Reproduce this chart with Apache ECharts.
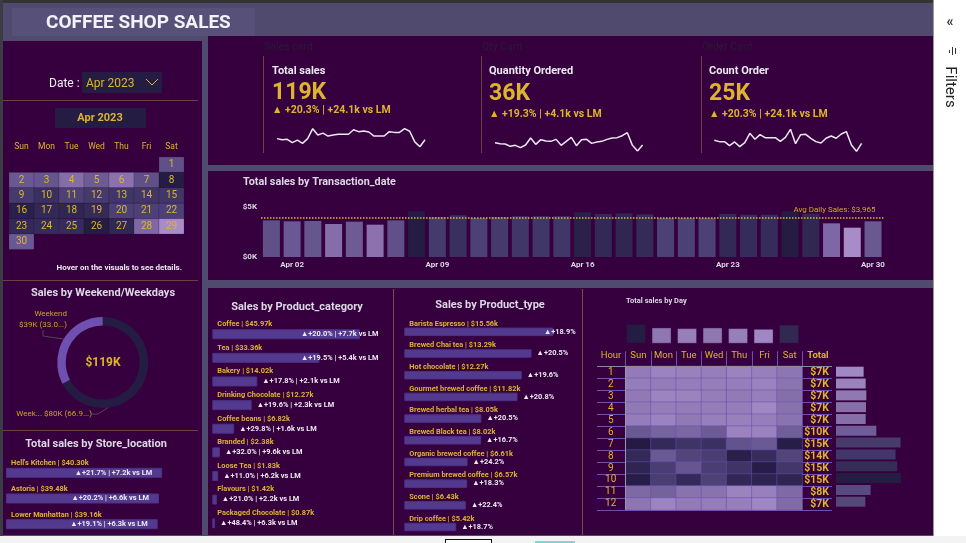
<!DOCTYPE html>
<html lang="en">
<head>
    <meta charset="UTF-8">
    <title>Coffee Shop Sales</title>
    <script src="https://cdn.jsdelivr.net/npm/echarts@6/dist/echarts.min.js"></script>
    <style>
        html, body { margin: 0; padding: 0; background: #fff; overflow: hidden; }
        #main { width: 966px; height: 543px; }
    </style>
</head>
<body>
<div id="main"></div>
<script type="text/javascript">
    // daily sales, Apr 1 - Apr 30
    var dayLabels = ['Apr 01','Apr 02','Apr 03','Apr 04','Apr 05','Apr 06','Apr 07','Apr 08','Apr 09','Apr 10',
        'Apr 11','Apr 12','Apr 13','Apr 14','Apr 15','Apr 16','Apr 17','Apr 18','Apr 19','Apr 20',
        'Apr 21','Apr 22','Apr 23','Apr 24','Apr 25','Apr 26','Apr 27','Apr 28','Apr 29','Apr 30'];
    var dailySales = [3667,3567,3600,3300,3533,3233,3667,4567,4000,4167,3900,4000,4067,4067,4067,
        4467,4300,4367,4267,3900,3900,3900,4300,4233,4233,4567,4333,3367,2933,3567];
    var dailyQty = [1172,1147,1138,1079,1104,1045,1113,1291,1130,1249,1215,1206,1257,1104,1206,
        1308,1096,1249,1257,1155,1189,1206,1257,1291,1300,1351,1427,1104,960,1113];
    var dailyOrders = [832,816,816,768,812,756,804,916,844,900,864,864,864,820,868,
        964,792,900,904,856,816,800,856,884,856,908,936,776,700,796];
    var avgDailySales = 3965;

    var weekSplit = [80, 39];
    var weekSplitLabels = ['Week... $80K (66.9...)', 'Weekend\n$39K (33.0...)'];

    var storeNames = ["Lower Manhattan", "Astoria", "Hell's Kitchen"];
    var storeSales = [39.16, 39.48, 40.30];
    var storeNotes = ['▲+19.1% | +6.3k vs LM', '▲+20.2% | +6.6k vs LM', '▲+21.7% | +7.2k vs LM'];

    var categoryNames = ['Packaged Chocolate','Flavours','Loose Tea','Branded','Coffee beans','Drinking Chocolate','Bakery','Tea','Coffee'];
    var categorySales = [0.87,1.42,1.83,2.38,6.82,12.27,14.02,33.36,45.97];
    var categoryNotes = ['▲+48.4% | +6.3k vs LM','▲+21.0% | +2.2k vs LM','▲+11.0% | +6.2k vs LM','▲+32.0% | +9.6k vs LM',
        '▲+29.8% | +1.6k vs LM','▲+19.6% | +2.3k vs LM','▲+17.8% | +2.1k vs LM','▲+19.5% | +5.4k vs LM','▲+20.0% | +7.7k vs LM'];

    var typeNames = ['Drip coffee','Scone','Premium brewed coffee','Organic brewed coffee','Brewed Black tea','Brewed herbal tea',
        'Gourmet brewed coffee','Hot chocolate','Brewed Chai tea','Barista Espresso'];
    var typeSales = [5.42,6.43,6.57,6.61,8.02,8.05,11.82,12.27,13.29,15.56];
    var typeNotes = ['▲+18.7%','▲+22.4%','▲+18.3%','▲+24.2%','▲+16.7%','▲+20.5%','▲+20.8%','▲+19.6%','▲+20.5%','▲+18.9%'];

    var weekDays = ['Sun','Mon','Tue','Wed','Thu','Fri','Sat'];
    var dayTotals = [20.0,16.5,15.8,16.5,15.8,15.1,19.3];
    var hours = ['1','2','3','4','5','6','7','8','9','10','11','12'];
    var hourTotals = [6.55,7.03,7.19,7.10,7.03,9.56,15.3,14.1,14.5,15.4,8.2,6.95];
    var hourTotalColors = ['#a088c4','#9a82bd','#9079b2','#8770a8','#856fa8','#6f5d99','#463b6b','#41376a','#352d58','#241c42','#574a80','#554878'];
    var hourDaySales = [
        [1060,950,980,1020,950,1000,1120],
        [1040,1050,1030,1020,1020,960,1150],
        [1090,940,950,1030,1070,1020,1230],
        [1080,1030,1050,1030,1040,880,1190],
        [1040,950,1080,1010,990,1020,1160],
        [1560,1400,1350,1530,950,960,1480],
        [2550,2250,2100,2150,1650,1550,2500],
        [2250,1550,1850,1950,2450,2200,1850],
        [2350,1950,1600,1950,2100,2500,2050],
        [2500,1950,2250,1900,2300,2400,2350],
        [1320,1430,1170,1170,950,990,1300],
        [1130,930,1060,1030,1000,900,1290]
    ];

    var PANEL = '#36003e', BAND = '#4f4a6e', DARK = '#241c42', YELLOW = '#dcb52e', BROWN = '#6e3f45';
    var BAR = '#533a8f', LIGHT = '#dcd8e4';
    var FONT = 'Roboto, "Noto Sans", sans-serif';

    function rect(x, y, w, h, fill, z) {
        return { type: 'rect', z: z || 0, silent: true, shape: { x: x, y: y, width: w, height: h }, style: { fill: fill } };
    }
    function txt(x, y, s, size, color, weight, align) {
        return { type: 'text', z: 100, silent: true, style: { x: x, y: y, text: s, fontSize: size, fontFamily: FONT,
            fill: color, fontWeight: weight || 'normal', align: align || 'left', verticalAlign: 'middle' } };
    }

    var graphics = [
        rect(0, 0, 966, 543, BAND),
        rect(0, 0, 966, 3, '#333'),
        rect(0, 0, 3, 543, '#3c3c46'),
        rect(12, 8, 243, 28, '#57517a'),
        // panels
        rect(3, 41, 199, 494, PANEL),
        rect(208, 36, 725, 129, PANEL),
        rect(208, 171, 725, 109, PANEL),
        rect(208, 288, 725, 247, PANEL),
        // brown rules
        rect(3, 100, 195, 1, BROWN), rect(3, 280, 195, 1, BROWN), rect(3, 430, 195, 1, BROWN),
        rect(263, 56, 1, 97, BROWN), rect(481, 56, 1, 97, BROWN), rect(701, 56, 1, 97, BROWN),
        rect(393, 289, 1, 246, '#7a4f45'), rect(582, 289, 1, 246, '#7a4f45'),
        // date boxes
        rect(82, 72, 80, 21, DARK), rect(55, 108, 91, 20, DARK),
        { type: 'polyline', z: 100, silent: true, shape: { points: [[146, 79], [152, 85], [158, 79]] },
            style: { stroke: YELLOW, fill: 'none', lineWidth: 1 } },
        // filter pane and the strip under the page
        rect(933, 0, 33, 543, '#ffffff', 90), rect(933, 0, 1, 543, '#9a9a9a', 90),
        rect(0, 536, 966, 7, '#f3f3f3', 90),
        rect(445, 539, 47, 4, '#111', 91), rect(446, 540, 45, 3, '#fff', 92),
        rect(535, 541, 40, 2, '#7fd8d0', 91),
        rect(949, 50, 1, 3, '#333', 100), rect(952, 47, 1, 8, '#333', 100), rect(955, 48, 1, 6, '#333', 100),
        // matrix header rule and left edge
        rect(597, 366, 235, 1, '#8d8a9c', 60), rect(625, 366, 1, 144, '#9b93b0', 60),

        txt(46, 23, 'COFFEE SHOP SALES', 19, '#f4f2f8', 'bold'),
        txt(950, 22, '«', 14, '#333', 'bold', 'center'),
        { type: 'text', z: 100, silent: true, x: 950, y: 87, rotation: -Math.PI / 2,
            style: { x: 0, y: 0, text: 'Filters', fontSize: 15, fontFamily: FONT, fill: '#222', align: 'center', verticalAlign: 'middle' } },

        txt(49, 84, 'Date :', 12, '#f0eef4', 'normal'),
        txt(86, 84, 'Apr 2023', 12, YELLOW),
        txt(100, 118, 'Apr 2023', 11, YELLOW, 'bold', 'center'),
        txt(182, 268, 'Hover on the visuals to see details.', 8, '#ece9f0', 'bold', 'right'),
        txt(103, 293, 'Sales by Weekend/Weekdays', 11, LIGHT, 'bold', 'center'),
        txt(103, 363, '$119K', 12, YELLOW, 'bold', 'center'),
        txt(96, 444, 'Total sales by Store_location', 11, LIGHT, 'bold', 'center'),

        txt(264, 47, 'Sales card', 10.5, '#2c1a34'), txt(482, 47, 'Qty Card', 10.5, '#2c1a34'), txt(702, 47, 'Order Card', 10.5, '#2c1a34'),
        txt(272, 71, 'Total sales', 11, '#ebe8f0', 'bold'),
        txt(272, 93, '119K', 23, YELLOW, 'bold'),
        txt(272, 110, '▲ +20.3% | +24.1k vs LM', 10.5, YELLOW, 'bold'),
        txt(489, 71, 'Quantity Ordered', 11, '#ebe8f0', 'bold'),
        txt(489, 94, '36K', 23, YELLOW, 'bold'),
        txt(489, 114, '▲ +19.3% | +4.1k vs LM', 10.5, YELLOW, 'bold'),
        txt(709, 71, 'Count Order', 11, '#ebe8f0', 'bold'),
        txt(709, 94, '25K', 23, YELLOW, 'bold'),
        txt(709, 114, '▲ +20.3% | +24.1k vs LM', 10.5, YELLOW, 'bold'),

        txt(243, 182, 'Total sales by Transaction_date', 10.8, LIGHT, 'bold'),
        txt(297, 307, 'Sales by Product_category', 11, LIGHT, 'bold', 'center'),
        txt(490, 305, 'Sales by Product_type', 11, LIGHT, 'bold', 'center'),
        txt(626, 301, 'Total sales by Day', 7.5, LIGHT, 'bold'),
        txt(611, 356, 'Hour', 9.5, YELLOW, 'normal', 'center'),
        txt(818, 356, 'Total', 9.5, YELLOW, 'bold', 'center')
    ];

    var grids = [
        { left: 277, width: 148, top: 128.7, height: 18 },     // 0 sales sparkline
        { left: 495, width: 147.6, top: 132.7, height: 18.3 }, // 1 qty sparkline
        { left: 714.3, width: 147.3, top: 129.3, height: 22 }, // 2 orders sparkline
        { left: 261, width: 622.4, top: 207, height: 50 },     // 3 daily bars
        { left: 6, width: 160, top: 460, height: 78 },         // 4 store
        { left: 212.3, width: 170, top: 322.4, height: 217 },  // 5 category
        { left: 404.3, width: 170, top: 321, height: 217.4 },  // 6 type
        { left: 623.3, width: 178.5, top: 324, height: 19.7 }, // 7 day totals
        { left: 625.7, width: 176.6, top: 366.3, height: 143.6 }, // 8 matrix
        { left: 597, width: 235, top: 366.3, height: 143.6 },  // 9 row rules
        { left: 836, width: 65, top: 365.8, height: 141.8 }    // 10 hour totals
    ];

    function hiddenAxis(type, grid, extra) {
        return Object.assign({ type: type, gridIndex: grid, show: false, boundaryGap: type === 'category' ? true : undefined }, extra || {});
    }

    var xAxes = [
        hiddenAxis('category', 0, { data: dayLabels, boundaryGap: false }),
        hiddenAxis('category', 1, { data: dayLabels, boundaryGap: false }),
        hiddenAxis('category', 2, { data: dayLabels, boundaryGap: false }),
        { type: 'category', gridIndex: 3, data: dayLabels, axisLine: { show: false }, axisTick: { show: false },
            axisLabel: { interval: function (i) { return i % 7 === 1; }, color: LIGHT, fontSize: 8, fontWeight: 'bold', fontFamily: FONT, margin: 4 } },
        hiddenAxis('value', 4, { min: 0, max: 41.3 }),
        hiddenAxis('value', 5, { min: 0, max: 52.96 }),
        hiddenAxis('value', 6, { min: 0, max: 17.75 }),
        hiddenAxis('category', 7, { data: weekDays }),
        { type: 'category', gridIndex: 8, position: 'top', data: weekDays, axisLine: { show: false },
            axisTick: { show: true, length: 15, lineStyle: { color: '#6d4fb0' } },
            axisLabel: { color: YELLOW, fontSize: 9.5, fontFamily: FONT, margin: 6 } },
        hiddenAxis('value', 9, { min: 0, max: 1 }),
        hiddenAxis('value', 10, { min: 0, max: 15.4 })
    ];

    // name sits above the bar: a blank second line pushes it up by one line height
    function hbarAxis(grid, names, values, lift) {
        return { type: 'category', gridIndex: grid, data: names, axisLine: { show: false }, axisTick: { show: false },
            axisLabel: { inside: true, interval: 0, margin: 5, color: YELLOW, fontSize: 7.4, fontWeight: 'bold', fontFamily: FONT,
                verticalAlign: 'middle', lineHeight: lift,
                formatter: function (name, i) { return name + ' | $' + values[i].toFixed(2) + 'k\n '; } },
            z: 10 };
    }

    var yAxes = [
        hiddenAxis('value', 0, { min: 2933, max: 4567 }),
        hiddenAxis('value', 1, { min: 960, max: 1427 }),
        hiddenAxis('value', 2, { min: 700, max: 964 }),
        { type: 'value', gridIndex: 3, min: 0, max: 5000, interval: 5000, splitLine: { show: false },
            axisLabel: { color: LIGHT, fontSize: 8, fontWeight: 'bold', fontFamily: FONT, margin: 4,
                formatter: function (v) { return '$' + v / 1000 + 'K'; } } },
        hbarAxis(4, storeNames, storeSales, 19),
        hbarAxis(5, categoryNames, categorySales, 20),
        hbarAxis(6, typeNames, typeSales, 16),
        hiddenAxis('value', 7, { min: 0, max: 20 }),
        { type: 'category', gridIndex: 8, inverse: true, data: hours, axisLine: { show: false }, axisTick: { show: false },
            axisLabel: { interval: 0, color: YELLOW, fontSize: 10, fontFamily: FONT, margin: 15, align: 'center' } },
        { type: 'category', gridIndex: 9, inverse: true, position: 'right', data: hours, axisLine: { show: false }, axisTick: { show: false },
            axisLabel: { inside: true, interval: 0, margin: 3, color: YELLOW, fontSize: 10.5, fontWeight: 'bold', fontFamily: FONT,
                formatter: function (h, i) { return '$' + Math.round(hourTotals[i]) + 'K'; } },
            splitLine: { show: true, interval: 0, lineStyle: { color: '#6d4fb0', width: 1 } } },
        hiddenAxis('category', 10, { inverse: true, data: hours })
    ];

    function spark(i, values) {
        return { type: 'line', xAxisIndex: i, yAxisIndex: i, data: values, symbol: 'none',
            lineStyle: { color: '#ece8f0', width: 1.5 }, silent: true };
    }

    function hbar(i, values, notes, labelOpts, maxLabelX) {
        var s = { type: 'bar', xAxisIndex: i, yAxisIndex: i, data: values, barWidth: i === 6 ? 8.5 : 10,
            itemStyle: { color: BAR, borderColor: '#4a3285', borderWidth: 1 }, silent: true,
            label: Object.assign({ show: true, color: '#ece9f2', fontSize: 7.4, fontWeight: 'bold', fontFamily: FONT,
                formatter: function (p) { return notes[p.dataIndex]; } }, labelOpts) };
        if (maxLabelX) {
            // long bars: the note stops moving right and runs over the bar end
            s.labelLayout = function (p) {
                return { x: Math.min(p.rect.x + p.rect.width + 5, maxLabelX), y: p.rect.y + p.rect.height / 2,
                    align: 'left', verticalAlign: 'middle' };
            };
        }
        return s;
    }

    var matrixData = [];
    hourDaySales.forEach(function (row, h) {
        row.forEach(function (v, d) { matrixData.push([d, h, v]); });
    });

    var calendarData = dailySales.map(function (v, i) {
        return ['2023-04-' + ('0' + (i + 1)).slice(-2), v];
    });

    var series = [
        spark(0, dailySales),
        spark(1, dailyQty),
        spark(2, dailyOrders),
        { type: 'bar', xAxisIndex: 3, yAxisIndex: 3, data: dailySales, barWidth: 17, silent: true, z: 2,
            markLine: { silent: true, symbol: 'none', animation: false, data: [{ yAxis: avgDailySales }],
                lineStyle: { color: '#e0b828', type: 'dotted', width: 1.5 },
                label: { position: 'insideEndTop', distance: 3, color: '#d0aa2c', fontSize: 8, fontFamily: FONT, padding: [0, 5, 0, 0],
                    formatter: function () { return 'Avg Daily Sales: $' + avgDailySales.toLocaleString('en-US'); } } } },
        hbar(4, storeSales, storeNotes, { position: 'insideRight', distance: 10 }),
        hbar(5, categorySales, categoryNotes, { position: 'right', distance: 5 }, 301),
        hbar(6, typeSales, typeNotes, { position: 'right', distance: 5 }, 544),
        { type: 'bar', xAxisIndex: 7, yAxisIndex: 7, data: dayTotals, barWidth: 20, silent: true,
            itemStyle: { borderColor: 'rgba(54,0,62,0.35)', borderWidth: 1 } },
        { type: 'heatmap', xAxisIndex: 8, yAxisIndex: 8, data: matrixData, silent: true,
            itemStyle: { borderColor: '#6d4fb0', borderWidth: 0.5 } },
        { type: 'bar', xAxisIndex: 10, yAxisIndex: 10, barWidth: 10, silent: true,
            data: hourTotals.map(function (v, i) { return { value: v, itemStyle: { color: hourTotalColors[i] } }; }) },
        { type: 'heatmap', coordinateSystem: 'calendar', data: calendarData, silent: true, z: 5,
            itemStyle: { borderColor: 'rgba(54,0,62,0.35)', borderWidth: 0.5 },
            label: { show: true, color: YELLOW, fontSize: 10, fontFamily: FONT,
                formatter: function (p) { return +p.value[0].slice(-2); } } },
        { type: 'pie', center: [102.7, 362.5], radius: [37, 45.5], startAngle: 90, silent: true, avoidLabelOverlap: false,
            data: weekSplit.map(function (v, i) {
                return { value: v, name: weekSplitLabels[i], itemStyle: { color: i === 0 ? DARK : '#6f4fb0' } };
            }),
            label: { color: '#c9a32a', fontSize: 8, fontFamily: FONT, align: 'right', lineHeight: 11, formatter: '{b}' },
            labelLine: { show: true, length: 6, length2: 6, lineStyle: { color: '#55405f', width: 1 } },
            labelLayout: function (p) {
                return p.dataIndex === 0 ? { x: 92, y: 414, align: 'right' } : { x: 67, y: 319, align: 'right' };
            } }
    ];

    var myChart = echarts.init(document.getElementById('main'));
    myChart.setOption({
        animation: false,
        textStyle: { fontFamily: FONT },
        graphic: { elements: graphics },
        grid: grids,
        xAxis: xAxes,
        yAxis: yAxes,
        calendar: { left: 9, top: 157, cellSize: [25, 15.4], range: '2023-04', orient: 'vertical',
            splitLine: { show: false }, itemStyle: { color: 'transparent', borderColor: 'transparent', borderWidth: 0 },
            monthLabel: { show: false }, yearLabel: { show: false },
            dayLabel: { firstDay: 0, nameMap: weekDays, color: YELLOW, fontSize: 8.5, fontFamily: FONT, margin: 6 } },
        visualMap: [
            { show: false, type: 'continuous', seriesIndex: [3, 10], min: 2933, max: 4567, dimension: 1,
                inRange: { color: ['#a88cc8', '#8069a6', '#574b80', '#3a3060', '#241c42'] } },
            { show: false, type: 'continuous', seriesIndex: 7, min: 15, max: 20,
                inRange: { color: ['#a088c4', '#8d75b0', '#443a68', '#241c42'] } },
            { show: false, type: 'continuous', seriesIndex: 8, min: 880, max: 2550, dimension: 2,
                inRange: { color: ['#a088c4', '#8670ab', '#6a5a94', '#4e4377', '#362c5c', '#231b42'] } }
        ],
        series: series
    });
</script>
</body>
</html>
